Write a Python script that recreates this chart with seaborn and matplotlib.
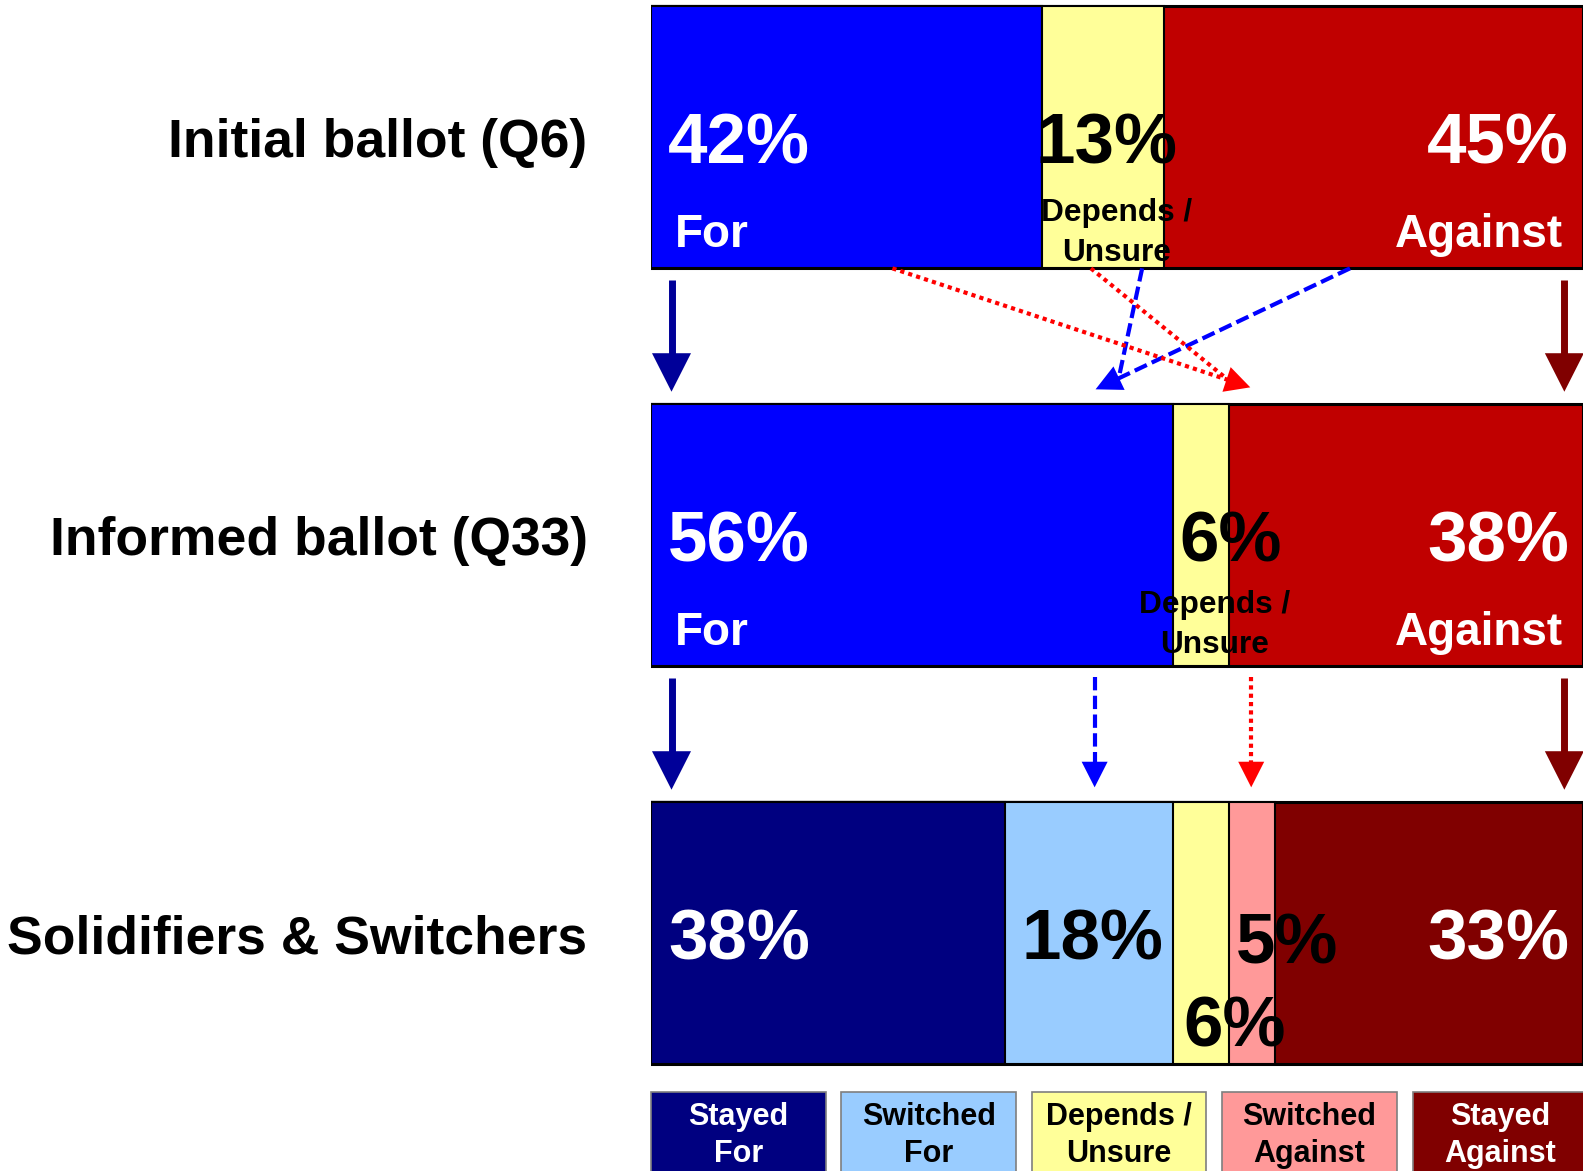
import numpy as np
import matplotlib.pyplot as plt
import seaborn as sns
from matplotlib.patches import FancyArrowPatch, Rectangle

sns.set_theme(style="white")
plt.rcParams['font.family'] = ['Liberation Sans', 'DejaVu Sans']

# data
row_labels = ['Initial ballot (Q6)', 'Informed ballot (Q33)', 'Solidifiers & Switchers']

initial_pct = [42, 13, 45]
informed_pct = [56, 6, 38]
ballot_names = ['For', 'Depends /\nUnsure', 'Against']

final_pct = [38, 18, 6, 5, 33]
final_names = ['Stayed\nFor', 'Switched\nFor', 'Depends /\nUnsure', 'Switched\nAgainst', 'Stayed\nAgainst']

ballot_colors = ['#0000FF', '#FFFF99', '#C00000']
ballot_text = ['white', 'black', 'white']
final_colors = ['#000080', '#99CCFF', '#FFFF99', '#FF9999', '#800000']
final_text = ['white', 'black', 'black', 'black', 'white']

W, H = 1583, 1171
BAR_H = 0.657
PX = 0.72  # pixels -> points at dpi 100

fig = plt.figure(figsize=(W / 100, H / 100), dpi=100)
ax = fig.add_axes([651 / W, 0, 1 - 651 / W, 1])

rows = [(initial_pct, ballot_colors), (informed_pct, ballot_colors), (final_pct, final_colors)]
for r, (pcts, cols) in enumerate(rows):
    ends = np.cumsum(pcts)
    # stacked bars: draw cumulative totals from widest to narrowest
    for k in reversed(range(len(pcts))):
        sns.barplot(x=[ends[k]], y=[r], orient='h', native_scale=True, width=BAR_H,
                    color=cols[k], saturation=1, edgecolor='black',
                    linewidth=2.2 if k == len(pcts) - 1 else 1.5,
                    errorbar=None, ax=ax)

ax.set_xlim(0, 100)
ax.set_ylim((H - 137) / 398, -137 / 398)
ax.set(xticks=[], yticks=[], xlabel='', ylabel='')
for s in ax.spines.values():
    s.set_visible(False)


def label(x, row, text, dx, dy, size, color, ha, ls=1.2):
    # dy = baseline of the last line, pixels below the row centre
    ax.annotate(text, xy=(x, row), xytext=(dx * PX, -dy * PX), textcoords='offset points',
                ha=ha, va='baseline', fontsize=size, color=color, fontweight='bold',
                linespacing=ls, annotation_clip=False)


# row titles
for r, name in enumerate(row_labels):
    label(0, r, name, -63.5, 20.5, 38.5, 'black', 'right')

# percentage labels in the two ballot rows
unsure_dy = [124, 118]
for r, pcts in enumerate([initial_pct, informed_pct]):
    ends = np.cumsum(pcts)
    starts = ends - np.array(pcts)
    for k, p in enumerate(pcts):
        txt = f'{p}%'
        mid = (starts[k] + ends[k]) / 2
        if k == 0:
            label(0, r, txt, 17, 26.5, 51, ballot_text[k], 'left')
            label(0, r, ballot_names[k], 23.4, 110, 33, ballot_text[k], 'left')
        elif k == len(pcts) - 1:
            label(100, r, txt, -14, 26.5, 51, ballot_text[k], 'right')
            label(100, r, ballot_names[k], -20, 110, 33, ballot_text[k], 'right')
        else:
            if p >= 10:
                label(mid, r, txt, 3, 26.5, 51, ballot_text[k], 'center')
            else:
                label(starts[k], r, txt, 6, 26.5, 51, ballot_text[k], 'left')
            label(mid, r, ballot_names[k], 14, unsure_dy[r], 22.8, ballot_text[k], 'center', ls=1.42)

# percentage labels in the final row
ends = np.cumsum(final_pct)
starts = ends - np.array(final_pct)
final_place = [('left', 17, 27), ('center', 3, 27), ('start', 10, 113.7),
               ('start', 7, 31), ('right', -14, 27)]
for k, p in enumerate(final_pct):
    how, dx, dy = final_place[k]
    if how == 'left':
        label(0, 2, f'{p}%', dx, dy, 51, final_text[k], 'left')
    elif how == 'right':
        label(100, 2, f'{p}%', dx, dy, 51, final_text[k], 'right')
    elif how == 'center':
        label((starts[k] + ends[k]) / 2, 2, f'{p}%', dx, dy, 51, final_text[k], 'center')
    else:
        label(starts[k], 2, f'{p}%', dx, dy, 51, final_text[k], 'left')


def flow(start, end, color, style, lw, head=None):
    """line from start to end (data coords); head=(length, width) in pixels"""
    (sx, sy), (ex, ey) = ax.transData.transform([start, end])
    length = np.hypot(ex - sx, ey - sy)
    cut = 1 - 0.8 * head[0] / length if head else 1
    xe = start[0] + (end[0] - start[0]) * cut
    ye = start[1] + (end[1] - start[1]) * cut
    ax.plot([start[0], xe], [start[1], ye], color=color, lw=lw, linestyle=style,
            solid_capstyle='butt', dash_capstyle='butt')
    if head:
        ax.add_patch(FancyArrowPatch(
            start, end, mutation_scale=1, color=color, lw=0, shrinkA=0, shrinkB=0,
            arrowstyle=f'simple,head_length={head[0] * PX},head_width={head[1] * PX},tail_width=0.01'))


dash = (0, (3.2, 1.3))
dot = (0, (1, 1))
for r in [0, 1]:
    flow((2.2, r + 0.36), (2.2, r + 0.64), '#000099', '-', 5, (38.5, 39))
    flow((98.0, r + 0.36), (98.0, r + 0.64), '#800000', '-', 5, (38.5, 39))

# switchers between the initial and the informed ballot
flow((52.7, 0.33), (50.2, 0.604), '#0000FF', dash, 3)
flow((75.0, 0.33), (47.7, 0.634), '#0000FF', dash, 3, (26, 26))
flow((47.2, 0.33), (61.8, 0.608), '#FF0000', dot, 3)
flow((25.9, 0.33), (64.3, 0.629), '#FF0000', dot, 3, (25, 26))
flow((47.6, 1.356), (47.6, 1.634), '#0000FF', dash, 3, (25.6, 26))
flow((64.4, 1.356), (64.4, 1.634), '#FF0000', dot, 3, (25.6, 26))

# legend boxes
lax = fig.add_axes([651 / W, 0, 1 - 651 / W, (H - 1090.7) / H])
lax.set_xlim(0, 932 / 190.4)
lax.set_ylim(0, 1)
lax.axis('off')
for i, name in enumerate(final_names):
    lax.add_patch(Rectangle((i, -0.3), 174.5 / 190.4, 1.3 - 0.01, facecolor=final_colors[i],
                            edgecolor='#7F7F7F', lw=1.2, clip_on=False))
    lax.text(i + 174.5 / 190.4 / 2, 1 - 71.5 / 80.3, name, ha='center', va='baseline',
             fontsize=22, fontweight='bold', color=final_text[i], linespacing=1.33)

fig.savefig('out.png', dpi=100)
